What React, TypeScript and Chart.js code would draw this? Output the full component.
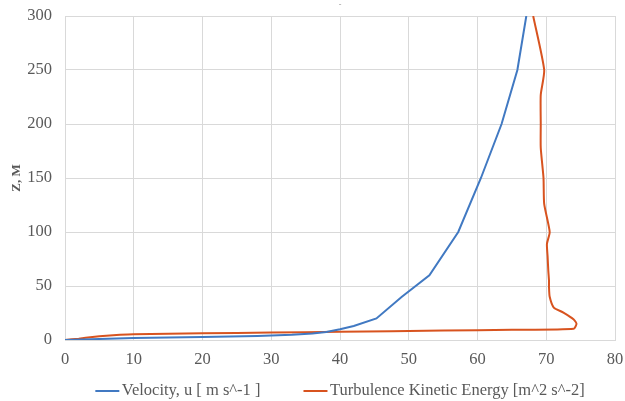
import React, { useEffect, useLayoutEffect, useRef } from 'react';
import { Chart, registerables } from 'chart.js';

Chart.register(...registerables);

// Velocity profile: u [m/s] vs height z [m]
const velocityU = [0, 5, 10, 20, 28, 33, 36, 38, 40, 42, 45.3, 49, 53, 57.2, 60.5, 63.5, 65.8, 67.1];
const velocityZ = [0, 1, 1.8, 2.8, 3.7, 4.8, 6, 7.5, 9.9, 13, 20, 40, 60, 100, 150, 200, 250, 300];

// Turbulence kinetic energy profile vs height z [m]
const tkeK = [0, 2, 4, 6, 8, 10, 20, 30, 40, 55, 65, 74, 74.4, 74, 72.5, 71.1, 70.5, 70.4, 70.4, 70.3, 70.2, 70.1, 70.5, 69.7, 69.6, 69.2, 69.2, 69.2, 69.7, 68.1];
const tkeZ = [0, 1.2, 2.8, 4, 4.8, 5.3, 6.2, 6.9, 7.6, 8.7, 9.5, 10.5, 15, 19, 25.4, 30, 40, 49, 55, 64, 77, 89, 100, 126, 150, 178, 200, 227, 250, 300];

const xTicks = [0, 10, 20, 30, 40, 50, 60, 70, 80];
const yTicks = [0, 50, 100, 150, 200, 250, 300];

const seriesNames = ['Velocity, u [ m s^-1 ]', 'Turbulence Kinetic Energy [m^2 s^-2]'];
const chartTitle = '-';
const yTitle = 'Z, M';

const FONT = "'Liberation Serif', 'Times New Roman', serif";
const TEXT_COLOR = '#595959';

// Bottom legend drawn with short line swatches, centred under the plot area
const lineLegend = {
  id: 'lineLegend',
  afterDraw(chart: any) {
    const ctx = chart.ctx as CanvasRenderingContext2D;
    const { left, right } = chart.chartArea;
    const swatch = 24;
    const textGap = 2.5;
    const itemGap = 43;
    ctx.save();
    ctx.font = `16.5px ${FONT}`;
    const items = chart.data.datasets.map((ds: any) => ({
      label: ds.label as string,
      color: ds.borderColor as string,
      w: ctx.measureText(ds.label).width,
    }));
    const total =
      items.reduce((s: number, it: any) => s + swatch + textGap + it.w, 0) + itemGap * (items.length - 1);
    let x = (left + right) / 2 - total / 2;
    const y = chart.height - 10;
    ctx.textBaseline = 'middle';
    ctx.textAlign = 'left';
    for (const it of items) {
      ctx.strokeStyle = it.color;
      ctx.lineWidth = 2;
      ctx.beginPath();
      ctx.moveTo(x, y);
      ctx.lineTo(x + swatch, y);
      ctx.stroke();
      ctx.fillStyle = TEXT_COLOR;
      ctx.fillText(it.label, x + swatch + textGap, y);
      x += swatch + textGap + it.w + itemGap;
    }
    ctx.restore();
  },
};

export default function App() {
  const ref = useRef<HTMLCanvasElement | null>(null);

  useLayoutEffect(() => {
    document.body.style.margin = '0';
  }, []);

  useEffect(() => {
    if (!ref.current) return;
    const toPts = (xs: number[], ys: number[]) => xs.map((x, i) => ({ x, y: ys[i] }));
    const grid = '#D9D9D9';
    const chart = new Chart(ref.current, {
      type: 'scatter',
      data: {
        datasets: [
          {
            label: seriesNames[0],
            data: toPts(velocityU, velocityZ),
            showLine: true,
            borderColor: '#4179C2',
            backgroundColor: '#4179C2',
            borderWidth: 2,
            pointRadius: 0,
            tension: 0,
          },
          {
            label: seriesNames[1],
            data: toPts(tkeK, tkeZ),
            showLine: true,
            borderColor: '#D8531F',
            backgroundColor: '#D8531F',
            borderWidth: 2,
            pointRadius: 0,
            tension: 0.2,
          },
        ],
      },
      plugins: [lineLegend],
      options: {
        animation: false,
        responsive: false,
        layout: { padding: { left: 0, right: 10, top: 0, bottom: 21.2 } },
        plugins: {
          title: {
            display: true,
            fullSize: false,
            text: chartTitle,
            color: '#A6A6A6',
            font: { family: FONT, size: 8 },
            padding: { top: 0, bottom: 6.4 },
          },
          tooltip: { enabled: false },
          legend: { display: false },
        },
        scales: {
          x: {
            type: 'linear',
            min: 0,
            max: 80,
            afterBuildTicks: (s: any) => {
              s.ticks = xTicks.map((v) => ({ value: v }));
            },
            afterFit: (s: any) => {
              s.paddingLeft = 0;
              s.paddingRight = 0;
            },
            grid: { color: grid, drawTicks: false },
            border: { color: grid },
            ticks: { color: TEXT_COLOR, font: { family: FONT, size: 16.5 }, padding: 10 },
          },
          y: {
            type: 'linear',
            min: 0,
            max: 300,
            afterBuildTicks: (s: any) => {
              s.ticks = yTicks.map((v) => ({ value: v }));
            },
            afterFit: (s: any) => {
              s.width = 65;
              s.paddingTop = 0;
              s.paddingBottom = 0;
            },
            grid: { color: grid, drawTicks: false },
            border: { color: grid },
            ticks: { color: TEXT_COLOR, font: { family: FONT, size: 16.5 }, padding: 13 },
            title: {
              display: true,
              text: yTitle,
              color: TEXT_COLOR,
              font: { family: FONT, size: 13, weight: 'bold' },
              padding: { top: 9, bottom: 0 },
            },
          },
        },
      },
    });
    return () => chart.destroy();
  }, []);

  return (
    <div style={{ width: 625, height: 401 }}>
      <canvas ref={ref} width={625} height={401} style={{ display: 'block' }} />
    </div>
  );
}
